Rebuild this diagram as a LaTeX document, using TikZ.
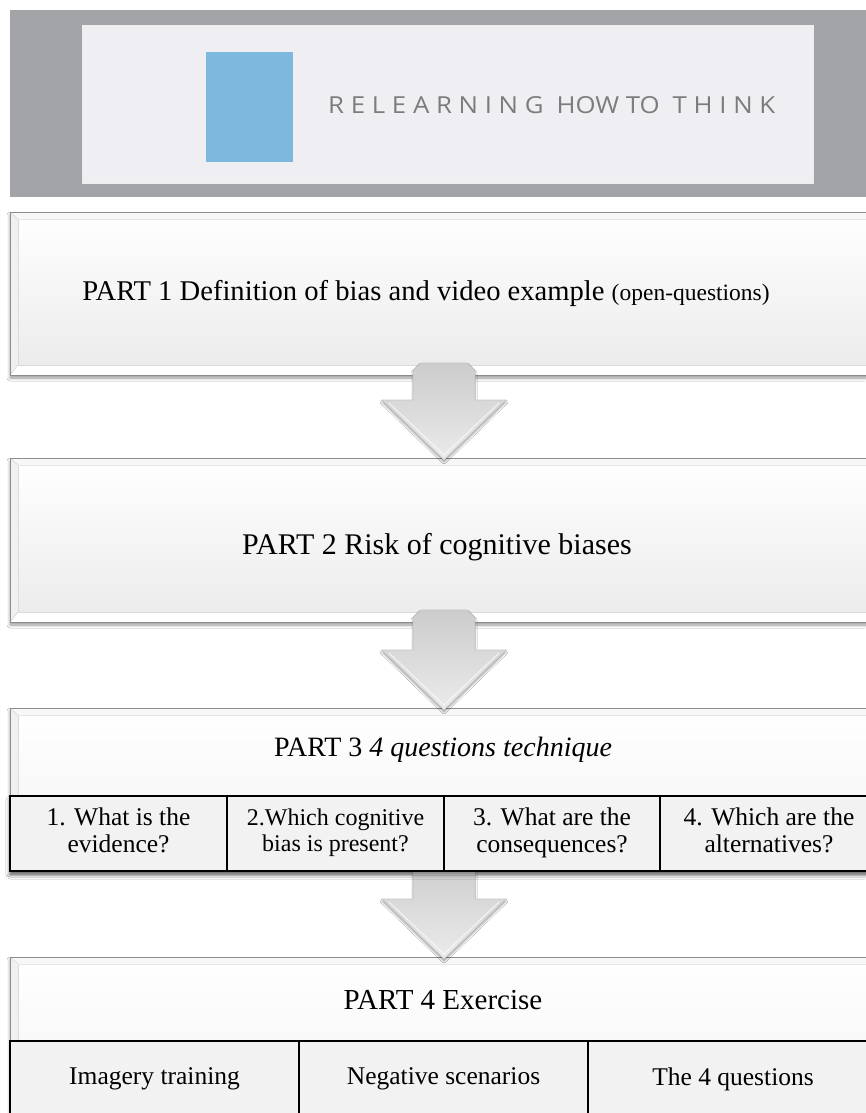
\documentclass[tikz,border=0pt]{standalone}
\usepackage{fontspec}
\setmainfont{Liberation Serif}
\newfontfamily\brandfont{Open Sans}
\usetikzlibrary{calc,shadows,shadows.blur}

\definecolor{bannergray}{HTML}{A2A4A7}
\definecolor{bannerpanel}{HTML}{EFEEF2}
\definecolor{bannerblue}{HTML}{7DB9DF}
\definecolor{bannertext}{HTML}{7C7C7C}
\definecolor{cellfill}{HTML}{F2F2F2}

\newcommand{\celltext}[1]{\begin{tabular}{@{}c@{}}#1\end{tabular}}

% bevelled edges of a panel node
\newcommand{\panelbevel}[1]{%
  \fill[gray!12] (#1.north west) -- ($(#1.north west)+(8,7)$) -- ($(#1.south west)+(8,-10)$) -- (#1.south west) -- cycle;
  \fill[gray!6] (#1.north west) -- (#1.north east) -- ($(#1.north east)+(-8,7)$) -- ($(#1.north west)+(8,7)$) -- cycle;
  \fill[white] (#1.south west) -- ($(#1.south west)+(8,-10)$) -- ($(#1.south east)+(-8,-10)$) -- (#1.south east) -- cycle;
  \draw[gray!28, line width=0.5pt] ($(#1.north west)+(8,7)$) -- ($(#1.south west)+(8,-10)$) -- ($(#1.south east)+(-8,-10)$);
  \draw[gray!20, line width=0.5pt] ($(#1.north west)+(8,7)$) -- ($(#1.north east)+(-8,7)$);
  \draw[gray!40, line width=0.4pt] (#1.north west) -- ($(#1.north west)+(8,7)$) (#1.south west) -- ($(#1.south west)+(8,-10)$);
  \draw[gray!90, line width=0.9pt] (#1.north west) rectangle (#1.south east);
}

% block arrow from the bottom of one panel to the top of the next
\newcommand{\flowarrow}[2]{%
  \path[arrowbody] let \p1=(#1.south), \p2=(#2.north) in
    (\x2-23pt,\y1+12pt) -- (\x2+23pt,\y1+12pt) -- (\x2+31pt,\y1+4pt)
    -- (\x2+31pt,\y2+58pt) -- (\x2+62pt,\y2+58pt) -- (\x2,\y2-2pt)
    -- (\x2-62pt,\y2+58pt) -- (\x2-31pt,\y2+58pt) -- (\x2-31pt,\y1+4pt) -- cycle;
  \path[draw=white, line width=0.8pt, opacity=0.8] let \p2=(#2.north) in
    (\x2-55pt,\y2+55pt) -- (\x2,\y2+3pt) -- (\x2+55pt,\y2+55pt);
}

\begin{document}
\begin{tikzpicture}[x=1pt,y=-1pt,
  panel/.style={draw=gray!90, line width=0.9pt, top color=white, bottom color=gray!16,
    minimum width=868, minimum height=#1, anchor=north west, inner sep=0, outer sep=0,
    blur shadow={shadow xshift=0pt, shadow yshift=-3pt, shadow blur radius=3pt}},
  whitepanel/.style={panel=#1, top color=white, bottom color=gray!10},
  arrowbody/.style={draw=gray!45, line width=0.6pt, top color=gray!40, bottom color=gray!16,
    blur shadow={shadow xshift=0pt, shadow yshift=-2pt, shadow blur radius=2pt}},
  row/.style={fill=cellfill, draw=black, line width=1.2pt, minimum width=868, minimum height=#1,
    anchor=north west, inner sep=0, outer sep=0},
  cell/.style={fill=cellfill, draw=black, line width=1.2pt, minimum height=#1,
    anchor=north west, inner sep=0, outer sep=0},
  titletext/.style={font=\fontsize{28}{32}\selectfont, inner sep=0},
  celltxt/.style={font=\fontsize{25.5}{27}\selectfont, inner sep=0},
]
\useasboundingbox (0,0) rectangle (865,1113);
\fill[white] (0,0) rectangle (865,1113);

% banner
\node[fill=bannergray, minimum width=875, minimum height=187, anchor=north west, inner sep=0, outer sep=0] (banner) at (10,10) {};
\node[fill=bannerpanel, draw=white!85!gray, line width=0.5pt, minimum width=731, minimum height=158, anchor=north west, inner sep=0, outer sep=0] (bannerpanel) at (82,25) {};
\node[fill=bannerblue, minimum width=87, minimum height=110, anchor=north west, inner sep=0, outer sep=0] (logo) at (206,52) {};
\node[text=bannertext, anchor=west, inner sep=0] (brand) at (328,105)
  {\resizebox{447pt}{17pt}{\brandfont R E L E A R N I N G\enspace HOW TO\enspace T H I N K}};

% panels
\node[panel=163] (part1) at (10,212) {};
\panelbevel{part1}
\node[panel=164] (part2) at (10,458) {};
\panelbevel{part2}
\node[whitepanel=163] (part3) at (10,708) {};
\panelbevel{part3}
\node[whitepanel=175] (part4) at (10,957) {};
\panelbevel{part4}

% arrows between the parts
\flowarrow{part1}{part2}
\flowarrow{part2}{part3}
\flowarrow{part3}{part4}

% titles
\node[titletext, font=\fontsize{28.6}{32}\selectfont] (title1) at (426,293) {PART 1 Definition of bias and video example {\fontsize{23.5}{26}\selectfont(open-questions)}};
\node[titletext, font=\fontsize{30}{34}\selectfont] (title2) at (437,547) {PART 2 Risk of cognitive biases};
\node[titletext] (title3) at (443,750) {PART 3 \textit{4 questions technique}};
\node[titletext, font=\fontsize{29}{33}\selectfont] (title4) at (443,1000) {PART 4 Exercise};

% the four questions
\node[row=75, blur shadow={shadow xshift=0pt, shadow yshift=-4pt, shadow blur radius=4pt}] (qrow) at (10,796) {};
\node[cell=75, minimum width=217] (q1) at (10,796) {};
\node[cell=75, minimum width=217] (q2) at (227,796) {};
\node[cell=75, minimum width=216] (q3) at (444,796) {};
\node[cell=75, minimum width=218] (q4) at (660,796) {};
\draw[line width=2.2pt] (qrow.south west) -- (qrow.south east);
\node[celltxt] (q1t) at (q1.center) {\celltext{1. What is the\\evidence?}};
\node[celltxt, font=\fontsize{24}{25.5}\selectfont] (q2t) at (q2.center) {\celltext{2.Which cognitive\\bias is present?}};
\node[celltxt] (q3t) at (q3.center) {\celltext{3. What are the\\consequences?}};
\node[celltxt] (q4t) at (q4.center) {\celltext{4. Which are the\\alternatives?}};

% the exercises
\node[cell=90, minimum width=289] (e1) at (10,1041) {};
\node[cell=90, minimum width=289] (e2) at (299,1041) {};
\node[cell=90, minimum width=290] (e3) at (588,1041) {};
\node[celltxt] (e1t) at (154.5,1079) {Imagery training};
\node[celltxt] (e2t) at (443.5,1079) {Negative scenarios};
\node[celltxt] (e3t) at (733,1079) {The 4 questions};
\end{tikzpicture}
\end{document}
